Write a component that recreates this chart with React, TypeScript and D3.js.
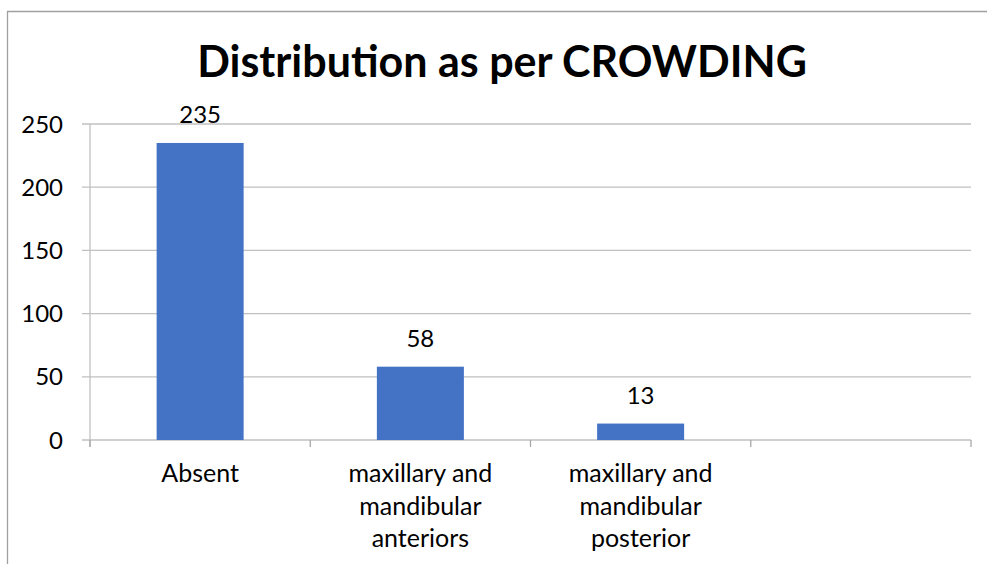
import React from "react";
import * as d3 from "d3";

const title = "Distribution as per CROWDING";
const categories: string[][] = [
  ["Absent"],
  ["maxillary and", "mandibular", "anteriors"],
  ["maxillary and", "mandibular", "posterior"],
  [],
];
const values: (number | null)[] = [235, 58, 13, null];
const yTicks = [0, 50, 100, 150, 200, 250];

const W = 987;
const H = 564;
const left = 90;
const right = 971;
const top = 124;
const bottom = 440;
const font = "Lato, 'Open Sans', sans-serif";
const labelSize = 25;
const numberSize = 24;

export default function App() {
  const x = d3
    .scaleBand<number>()
    .domain(categories.map((_, i) => i))
    .range([left, right])
    .paddingInner(0)
    .paddingOuter(0);
  const y = d3.scaleLinear().domain([0, 250]).range([bottom, top]);
  const bw = x.bandwidth() * 0.395;
  const boundaries = [...categories.map((_, i) => x(i) as number), right];

  return (
    <svg
      width={W}
      height={H}
      style={{ position: "absolute", left: 0, top: 0, background: "#fff" }}
    >
      {/* chart frame */}
      <path d={`M7.5,${H} V11.5 H${W}`} fill="none" stroke="#a0a0a0" strokeWidth={1.3} />

      <text
        x={502}
        y={77}
        textAnchor="middle"
        fontFamily={font}
        fontWeight="bold"
        fontSize={43}
        fill="#000"
      >
        {title}
      </text>

      {/* gridlines and y labels */}
      {yTicks.map((t) => (
        <g key={t}>
          <line x1={82} x2={right} y1={y(t)} y2={y(t)} stroke="#c0c0c0" strokeWidth={1.3} />
          <text
            x={63}
            y={y(t)}
            dy="0.36em"
            textAnchor="end"
            fontFamily={font}
            fontSize={numberSize}
            fill="#000"
          >
            {t}
          </text>
        </g>
      ))}

      {/* value axis line */}
      <line x1={left} x2={left} y1={top} y2={bottom + 7} stroke="#c0c0c0" strokeWidth={1.3} />

      {/* category ticks */}
      {boundaries.map((b, i) => (
        <line key={i} x1={b} x2={b} y1={bottom} y2={bottom + 7} stroke="#a8a8a8" strokeWidth={1.3} />
      ))}

      {/* bars and value labels */}
      {values.map((v, i) =>
        v == null ? null : (
          <g key={i}>
            <rect
              x={(x(i) as number) + x.bandwidth() / 2 - bw / 2}
              y={y(v)}
              width={bw}
              height={y(0) - y(v)}
              fill="#4472C4"
            />
            <text
              x={(x(i) as number) + x.bandwidth() / 2}
              y={y(v) - 20}
              textAnchor="middle"
              fontFamily={font}
              fontSize={numberSize}
              fill="#000"
            >
              {v}
            </text>
          </g>
        )
      )}

      {/* category labels */}
      {categories.map((lines, i) => (
        <text
          key={i}
          x={(x(i) as number) + x.bandwidth() / 2}
          y={482}
          textAnchor="middle"
          fontFamily={font}
          fontSize={labelSize}
          fill="#000"
        >
          {lines.map((l, j) => (
            <tspan key={j} x={(x(i) as number) + x.bandwidth() / 2} dy={j === 0 ? 0 : 32.5}>
              {l}
            </tspan>
          ))}
        </text>
      ))}
    </svg>
  );
}
